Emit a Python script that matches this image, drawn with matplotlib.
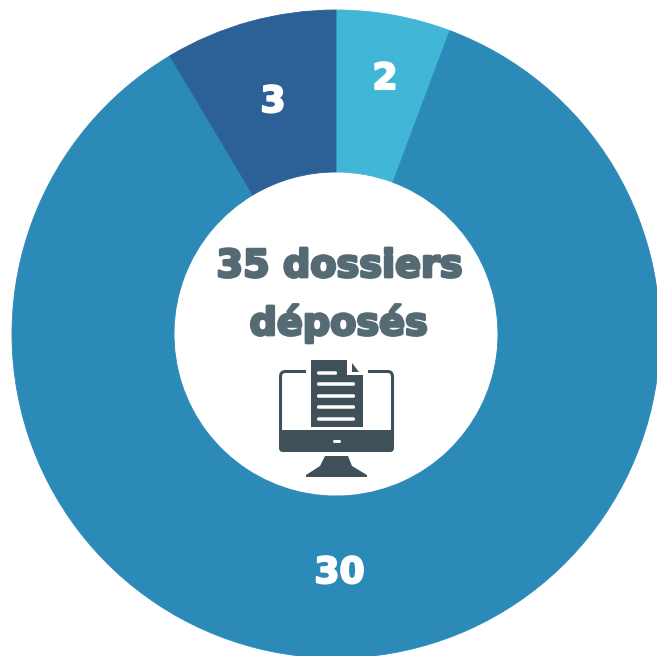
import matplotlib
matplotlib.use("Agg")
import matplotlib.pyplot as plt
import matplotlib.patheffects as pe
from matplotlib.patches import Rectangle, Polygon, FancyBboxPatch

W, H = 657, 656

# slices, clockwise from 12 o'clock
values = [2, 30, 3]
colors = ["#41b6d6", "#2b8ab8", "#2c6198"]
center_lines = ["35 dossiers", "déposés"]
dark = "#566a73"
icon = "#3f5059"

fig = plt.figure(figsize=(W / 100, H / 100), dpi=100)

# ring in its own y-up axes, everything else in pixel coords on top
pie_ax = fig.add_axes([0, 0, 1, 1])
wedges, _ = pie_ax.pie(values, colors=colors, startangle=90, counterclock=False,
                       center=(336, H - 334), radius=324, frame=True,
                       wedgeprops=dict(width=162, linewidth=0.6))
for w, c in zip(wedges, colors):
    w.set_edgecolor(c)
pie_ax.set_xlim(0, W)
pie_ax.set_ylim(0, H)
pie_ax.set_aspect("auto")
pie_ax.axis("off")

ax = fig.add_axes([0, 0, 1, 1])
ax.set_xlim(0, W)
ax.set_ylim(H, 0)
ax.axis("off")
ax.patch.set_alpha(0)


def bold_text(x, y, s, color, size, stroke):
    ax.text(x, y, s, color=color, fontsize=size, fontweight="bold", ha="center", va="center",
            family="DejaVu Sans", path_effects=[pe.withStroke(linewidth=stroke, foreground=color)])


# value labels
bold_text(385, 79, "2", "white", 26, 1.5)
bold_text(273, 102, "3", "white", 26, 1.5)
bold_text(339.5, 573, "30", "white", 26, 1.5)

# centre text
bold_text(340, 267, center_lines[0], dark, 27.5, 2)
bold_text(339, 324, center_lines[1], dark, 27.5, 2)

# monitor icon
ax.add_patch(FancyBboxPatch((280.5, 371.5), 112, 75, boxstyle="round,pad=0,rounding_size=5", fc="white", ec=icon, lw=2.2))
ax.add_patch(FancyBboxPatch((279, 430), 115, 22, boxstyle="round,pad=0,rounding_size=4", fc=icon, ec="none"))
ax.add_patch(Rectangle((279, 430), 115, 8, fc=icon, ec="none"))
ax.add_patch(Polygon([(325, 456), (348, 456), (352, 466), (367, 475), (367, 477), (306, 477), (306, 475), (320, 466)], fc=icon, ec="none"))
ax.add_patch(FancyBboxPatch((333, 440), 8, 3, boxstyle="round,pad=0,rounding_size=1.5", fc="white", ec="none"))

# document, with a white gap round it
ax.add_patch(Rectangle((306, 362), 62, 68, fc="white", ec="none"))
ax.add_patch(Polygon([(311, 360), (347, 360), (347, 375), (363, 375), (363, 427), (311, 427)], fc=icon, ec="none"))
ax.add_patch(Polygon([(352, 363), (359, 372), (352, 372)], fc=icon, ec="none"))
line_ys = [373, 384, 396, 407, 419]
line_ends = [337, 355, 355, 355, 355]
for y, x1 in zip(line_ys, line_ends):
    ax.add_patch(FancyBboxPatch((317, y - 1.75), x1 - 317, 3.5, boxstyle="round,pad=0,rounding_size=1.5", fc="white", ec="none"))

fig.savefig("out.png", dpi=100)
